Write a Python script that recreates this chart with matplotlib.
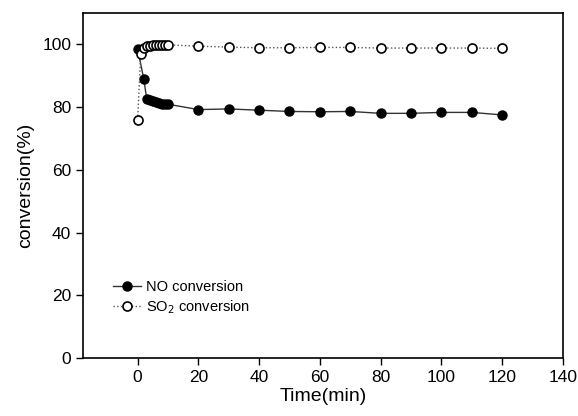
import matplotlib.pyplot as plt

plt.rcParams['font.family'] = ['Liberation Sans', 'DejaVu Sans']

# data
time_no = [0, 2, 3, 4, 5, 6, 7, 8, 9, 10, 20, 30, 40, 50, 60, 70, 80, 90, 100, 110, 120]
no_conv = [98.5, 89.0, 82.5, 82.2, 81.8, 81.5, 81.3, 81.1, 81.0, 80.9,
           79.2, 79.4, 79.0, 78.6, 78.5, 78.6, 78.0, 78.0, 78.3, 78.3, 77.5]
time_so2 = [0, 1, 2, 3, 4, 5, 6, 7, 8, 9, 10, 20, 30, 40, 50, 60, 70, 80, 90, 100, 110, 120]
so2_conv = [76.0, 96.8, 98.8, 99.4, 99.6, 99.7, 99.8, 99.8, 99.8, 99.8, 99.8,
            99.4, 99.1, 98.9, 98.9, 99.0, 99.0, 98.8, 98.8, 98.8, 98.8, 98.7]

fig = plt.figure(figsize=(5.78, 4.16), dpi=100)
ax = fig.add_axes([0.1436, 0.139, 0.830, 0.830])

ax.plot(time_no, no_conv, '-', color='#333333', lw=1.0, marker='o', ms=6.5,
        mfc='black', mec='black', label='NO conversion', zorder=3)
ax.plot(time_so2, so2_conv, ':', color='#555555', lw=1.0, marker='o', ms=6.5,
        mfc='white', mec='black', mew=1.2, label='SO$_2$ conversion', zorder=4)

ax.set_xlim(-18, 140)
ax.set_ylim(0, 110)
ax.set_xticks(range(0, 141, 20))
ax.set_yticks(range(0, 101, 20))
ax.tick_params(direction='out', length=5, width=1, labelsize=12.5, top=False, right=False)
for s in ax.spines.values():
    s.set_linewidth(1.2)

ax.set_xlabel('Time(min)', fontsize=14, labelpad=2)
ax.set_ylabel('conversion(%)', fontsize=14, labelpad=6)

ax.legend(loc='lower left', bbox_to_anchor=(0.035, 0.085), frameon=False,
          fontsize=10.5, handlelength=1.9, labelspacing=0.25, handletextpad=0.4)

fig.savefig('out.png', dpi=100)
